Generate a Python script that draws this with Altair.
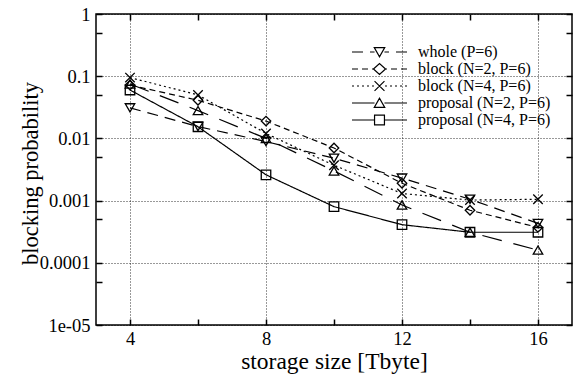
import altair as alt
import pandas as pd

# ---------------- data ----------------
X_VALUES = [4, 6, 8, 10, 12, 14, 16]
SERIES = ["whole (P=6)", "block (N=2, P=6)", "block (N=4, P=6)",
          "proposal (N=2, P=6)", "proposal (N=4, P=6)"]
WHOLE = [0.031, 0.0155, 0.0089, 0.0048, 0.0023, 0.00105, 0.00043]
BLOCK_N2 = [0.072, 0.041, 0.019, 0.0070, 0.0019, 0.00070, 0.00037]
BLOCK_N4 = [0.095, 0.050, 0.012, 0.0037, 0.0013, 0.00102, 0.00105]
PROP_N2 = [0.075, 0.028, 0.0100, 0.0030, 0.00085, 0.00031, 0.00016]
PROP_N4 = [0.060, 0.0154, 0.0026, 0.00080, 0.00041, 0.00031, 0.00031]

X_ALL_TICKS = [4, 6, 8, 10, 12, 14, 16]
Y_TICKS = [1e-5, 1e-4, 1e-3, 1e-2, 1e-1, 1]
Y_TICK_LABELS = ["1e-05", "0.0001", "0.001", "0.01", "0.1", "1"]
Y_MINOR = [5e-5, 5e-4, 5e-3, 5e-2, 5e-1]

rows = []
for name, vals in zip(SERIES, [WHOLE, BLOCK_N2, BLOCK_N4, PROP_N2, PROP_N4]):
    for x, v in zip(X_VALUES, vals):
        rows.append({"series": name, "size": x, "prob": v})
df = pd.DataFrame(rows)

# ---------------- styles ----------------
FONT = "Liberation Serif"
DASHES = [[11, 7], [6, 4], [2, 3], [20, 12], [1, 0]]
X_PATH = "M-1,-1L1,1M-1,1L1,-1"
PLOT_SHAPES = ["triangle-down", "diamond", X_PATH, "triangle-up", "square"]

U = 5.5  # px per legend path unit (sqrt(121)/2)


def dash_path(pattern_px, x0=0.0, x1=4.1):
    pat = [p / U for p in pattern_px]
    segs = []
    x, i, on = x0, 0, True
    while x < x1 - 1e-9:
        end = min(x + pat[i % len(pat)], x1)
        if on:
            segs.append((x, end))
        x, on, i = end, not on, i + 1
    out = ""
    for a, b in segs:
        out += f"M{a:.3f},0L{b:.3f},0"
        out += f"M{10 - b:.3f},0L{10 - a:.3f},0"
    return out


MARKERS = [
    "M4.05,-0.8L5.95,-0.8L5,0.85Z",
    "M3.9,0L5,-1L6.1,0L5,1Z",
    "M4.1,-0.9L5.9,0.9M4.1,0.9L5.9,-0.9",
    "M4.05,0.8L5.95,0.8L5,-0.85Z",
    "M4.1,-0.9L5.9,-0.9L5.9,0.9L4.1,0.9Z",
]
LEGEND_SHAPES = [
    dash_path(DASHES[0]) + MARKERS[0],
    dash_path(DASHES[1]) + MARKERS[1],
    dash_path(DASHES[2]) + MARKERS[2],
    dash_path([40, 1]) + MARKERS[3],
    "M0,0L4.1,0M5.9,0L10,0" + MARKERS[4],
]

x_scale = alt.Scale(domain=[3, 17], nice=False, zero=False)
y_scale = alt.Scale(type="log", domain=[1e-5, 1], nice=False)

DEC = "log(datum.value)/LN10"
Y_MAJOR_TEST = f"abs({DEC} - round({DEC})) < 0.01"
X_MAJOR_TEST = "datum.value % 4 == 0"
y_label_expr = (f"{Y_MAJOR_TEST} ? [" + ",".join(f"'{s}'" for s in Y_TICK_LABELS)
                + f"][round({DEC})+5] : ''")
x_label_expr = f"{X_MAJOR_TEST} ? datum.label : ''"

common = dict(gridColor="black", gridDash=[1, 2], gridWidth=1, domain=False,
              ticks=True, tickSize=6, tickWidth=1.5, tickColor="black", offset=-6,
              labelFont=FONT, labelFontSize=18.5, labelColor="black", titleFont=FONT,
              titleFontWeight="normal", titleColor="black", labelFlush=False, grid=True)

main_x_axis = alt.Axis(values=X_ALL_TICKS, labelExpr=x_label_expr,
                       gridOpacity={"condition": {"test": X_MAJOR_TEST, "value": 0.8}, "value": 0},
                       title="storage size [Tbyte]", labelPadding=4, titleFontSize=23.5,
                       titlePadding=2, orient="bottom", **common)
main_y_axis = alt.Axis(values=Y_TICKS + Y_MINOR, labelExpr=y_label_expr,
                       gridOpacity={"condition": {"test": Y_MAJOR_TEST, "value": 0.8}, "value": 0},
                       title="blocking probability", labelPadding=6, titleFontSize=22.5,
                       titleX=-60, titleY=159, orient="left", **common)


def tick_axis(values, orient):
    return alt.Axis(values=values, orient=orient, offset=-6, tickSize=6, ticks=True,
                    tickColor="black", tickWidth=1.5, labels=False, grid=False,
                    domain=False, title=None)


lines = alt.Chart(df).mark_line(color="black", strokeWidth=1.2).encode(
    x=alt.X("size:Q", scale=x_scale, axis=main_x_axis),
    y=alt.Y("prob:Q", scale=y_scale, axis=main_y_axis),
    strokeDash=alt.StrokeDash("series:N", scale=alt.Scale(domain=SERIES, range=DASHES),
                              legend=None),
    order="size:Q",
)

points = alt.Chart(df).mark_point(color="black", filled=False, size=90, strokeWidth=1.3,
                                  opacity=1).encode(
    x=alt.X("size:Q", scale=x_scale, axis=tick_axis(X_ALL_TICKS, "top")),
    y=alt.Y("prob:Q", scale=y_scale, axis=tick_axis(Y_TICKS + Y_MINOR, "right")),
    shape=alt.Shape("series:N", scale=alt.Scale(domain=SERIES, range=PLOT_SHAPES),
                    legend=None),
)

legend_layer = alt.Chart(df).mark_point(color="black", filled=False, opacity=0).encode(
    x=alt.X("size:Q", scale=x_scale, axis=None),
    y=alt.Y("prob:Q", scale=y_scale, axis=None),
    shape=alt.Shape("series:N", scale=alt.Scale(domain=SERIES, range=LEGEND_SHAPES),
                    legend=alt.Legend(title=None, orient="none", legendX=248, legendY=30,
                                      symbolSize=121, symbolOpacity=1,
                                      symbolStrokeColor="black", symbolStrokeWidth=1.2,
                                      symbolFillColor="transparent",
                                      labelFont=FONT, labelFontSize=16, labelColor="black",
                                      labelOffset=58, rowPadding=1, padding=0,
                                      labelLimit=300)),
)

chart = alt.layer(
    lines, points, legend_layer,
    resolve=alt.Resolve(
        scale=alt.ScaleResolveMap(shape="independent"),
        axis=alt.AxisResolveMap(x="independent", y="independent"),
    ),
).properties(
    width=476, height=311,
    autosize=alt.AutoSizeParams(type="none"),
    padding={"left": 96, "top": 14, "right": 4, "bottom": 51},
).configure_view(stroke="black", strokeWidth=1.5)

chart.save("out.html", embed_options={"renderer": "svg", "actions": False})
